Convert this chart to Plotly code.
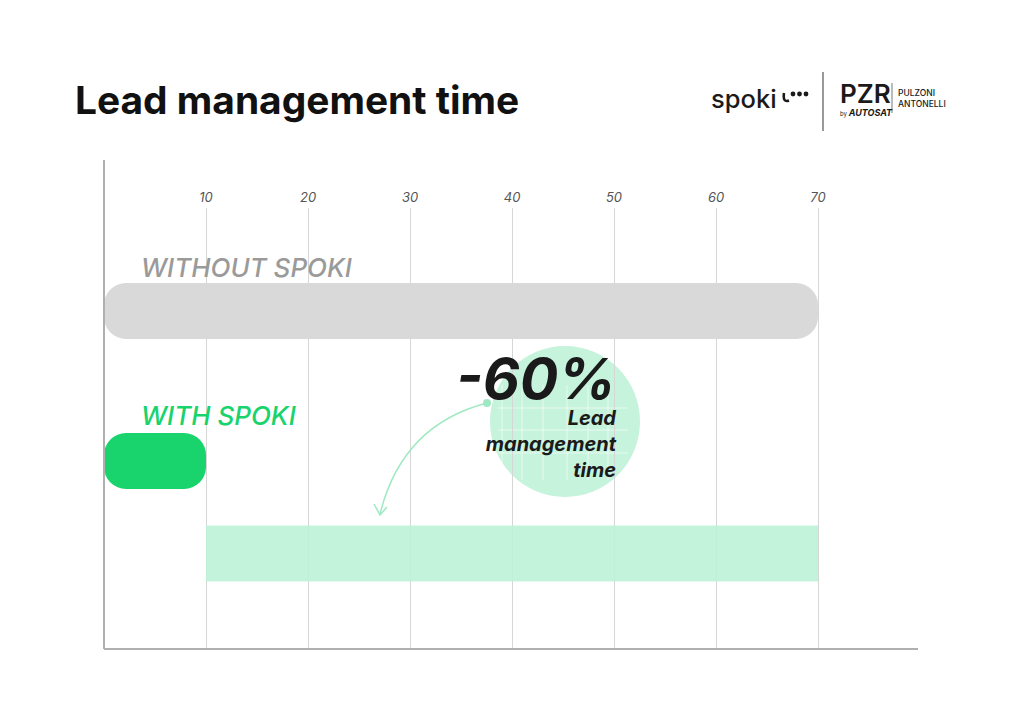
import plotly.graph_objects as go

# ---------------- data ----------------
categories = ["WITHOUT SPOKI", "WITH SPOKI", "Reduction"]
values = [70, 10, 60]
bases = [0, 0, 10]
tick_vals = [10, 20, 30, 40, 50, 60, 70]
tick_text = ["10", "20", "30", "40", "50", "60", "70"]
reduction_label = "-60%"
reduction_caption = "Lead<br>management<br>time"
title_text = "Lead management time"

# ---------------- layout helpers ----------------
W, H = 1024, 724
OFF = 8  # page body margin
L, R, T, B = 104 - OFF, W - (918 - OFF), 208 - OFF, H - (649 - OFF)
XMAX = 79.8
PW, PH = W - L - R, H - T - B
bar_pos = [103, 253, 345.5]  # vertical positions (pixel-like y axis)


def dx(px):
    return (px - 104) / PW * XMAX


def dy(py):
    return py - 208


def paper(px, py):
    return (px - 104) / PW, (649 - py) / PH


fig = go.Figure()

gray = "#d9d9d9"
green = "#19d36c"
light_green = "rgba(190,242,215,0.9)"

fig.add_trace(go.Bar(
    y=[bar_pos[0]], x=[values[0]], base=[bases[0]], orientation="h",
    width=56, marker=dict(color=gray, cornerradius=22, line=dict(width=0)),
    name=categories[0], hoverinfo="x"))
fig.add_trace(go.Bar(
    y=[bar_pos[1]], x=[values[1]], base=[bases[1]], orientation="h",
    width=56, marker=dict(color=green, cornerradius=22, line=dict(width=0)),
    name=categories[1], hoverinfo="x"))
fig.add_trace(go.Bar(
    y=[bar_pos[2]], x=[values[2]], base=[bases[2]], orientation="h",
    width=56, marker=dict(color=light_green, line=dict(width=0)),
    name=categories[2], hoverinfo="x"))

shapes = []
# decorative circle
shapes.append(dict(type="circle", xref="x", yref="y",
                   x0=dx(490), x1=dx(640), y0=dy(346), y1=dy(497),
                   fillcolor="#c6f3dc", line=dict(width=0), layer="below"))
# faint white grid inside circle
for px in [502, 522, 543, 567, 588, 608]:
    shapes.append(dict(type="line", xref="x", yref="y",
                       x0=dx(px), x1=dx(px), y0=dy(385), y1=dy(480),
                       line=dict(color="rgba(255,255,255,0.6)", width=1), layer="below"))
for py in [408, 430, 453]:
    shapes.append(dict(type="line", xref="x", yref="y",
                       x0=dx(498), x1=dx(628), y0=dy(py), y1=dy(py),
                       line=dict(color="rgba(255,255,255,0.6)", width=1), layer="below"))


def pshape(px0, py0, px1, py1, **kw):
    a, b = paper(px0, py0)
    c, d = paper(px1, py1)
    s = dict(xref="paper", yref="paper", x0=a, y0=b, x1=c, y1=d)
    s.update(kw)
    return s


# axis lines
shapes.append(pshape(104, 160, 104, 649, type="line", line=dict(color="#b0b0b0", width=2)))
shapes.append(pshape(104, 649, 918, 649, type="line", line=dict(color="#b0b0b0", width=2)))

# curved arrow
ac = "#9ee8c2"
path = "M {} {} Q {} {} {} {}".format(dx(487), dy(403), dx(402), dy(425), dx(380), dy(514))
shapes.append(dict(type="path", xref="x", yref="y", path=path,
                   line=dict(color=ac, width=1.5)))
head = "M {} {} L {} {} L {} {}".format(dx(374), dy(504), dx(380), dy(515), dx(387), dy(507))
shapes.append(dict(type="path", xref="x", yref="y", path=head,
                   line=dict(color=ac, width=1.5)))
shapes.append(dict(type="circle", xref="x", yref="y",
                   x0=dx(483), x1=dx(491), y0=dy(399), y1=dy(407),
                   fillcolor=ac, line=dict(width=0)))

# spoki logo mark: swoosh + three dots
for cx in [793, 799.5, 806]:
    shapes.append(pshape(cx - 2.4, 91.6, cx + 2.4, 96.4, type="circle",
                         fillcolor="#1a1a1a", line=dict(width=0)))

sw = [paper(784, 93), paper(782.5, 103), paper(789, 100.5)]
shapes.append(dict(type="path", xref="paper", yref="paper",
                   path="M {} {} Q {} {} {} {}".format(sw[0][0], sw[0][1], sw[1][0], sw[1][1],
                                                      sw[2][0], sw[2][1]),
                   line=dict(color="#1a1a1a", width=2.6)))
shapes.append(pshape(823, 72, 823, 131, type="line", line=dict(color="#555555", width=1.2)))
shapes.append(pshape(892, 83, 892, 113, type="line", line=dict(color="#555555", width=0.8)))

annotations = []


def pann(px, py, text, **kw):
    a, b = paper(px, py)
    d = dict(xref="paper", yref="paper", x=a, y=b, text=text, showarrow=False)
    d.update(kw)
    return d


annotations.append(dict(xref="x", yref="y", x=dx(139), y=dy(267), text=categories[0],
                        showarrow=False, xanchor="left", yanchor="middle",
                        font=dict(family="Inter", size=26, color="#9a9a9a",
                                  style="italic", weight=500)))
annotations.append(dict(xref="x", yref="y", x=dx(139), y=dy(415), text=categories[1],
                        showarrow=False, xanchor="left", yanchor="middle",
                        font=dict(family="Inter", size=26, color=green,
                                  style="italic", weight=500)))
annotations.append(dict(xref="x", yref="y", x=dx(619), y=dy(413),
                        text="<span style='font-size:57px'>" + reduction_label + "</span><br>"
                             + reduction_caption,
                        showarrow=False, xanchor="right", yanchor="middle", align="right",
                        font=dict(family="Inter", size=20, color="#1a1a1a",
                                  style="italic", weight=700)))
# logos text
annotations.append(pann(709, 98, "spoki", xanchor="left", yanchor="middle",
                        font=dict(family="Inter", size=25.5, color="#1a1a1a", weight=500)))
annotations.append(pann(865, 94, "PZR", xanchor="center", yanchor="middle",
                        font=dict(family="Inter", size=26, color="#1a1a1a", weight=600)))
annotations.append(pann(866, 113, "<span style='font-size:6px'>by </span><i><b>AUTOSAT</b></i>",
                        xanchor="center", yanchor="middle",
                        font=dict(family="Inter", size=9, color="#1a1a1a")))
annotations.append(pann(896, 98, "PULZONI<br>ANTONELLI", xanchor="left", yanchor="middle",
                        align="left",
                        font=dict(family="Inter", size=8.5, color="#1a1a1a", weight=500)))

fig.update_layout(
    width=W, height=H,
    margin=dict(l=L, r=R, t=T, b=B, pad=0),
    paper_bgcolor="white", plot_bgcolor="white",
    showlegend=False, barmode="overlay",
    title=dict(text=title_text, x=(75 - OFF) / W, xanchor="left", y=1 - (100 - OFF) / H,
               yanchor="middle",
               font=dict(family="Inter", size=38.9, color="#111111", weight=700)),
    xaxis=dict(range=[0, XMAX], side="top", tickvals=tick_vals, ticktext=tick_text,
               showgrid=True, gridcolor="#d6d6d6", gridwidth=1, zeroline=False,
               showline=False, ticks="", ticklabelstandoff=2,
               tickfont=dict(family="Inter", size=13, color="#555555", style="italic")),
    yaxis=dict(range=[PH, 0], visible=False, showgrid=False, zeroline=False),
    shapes=shapes, annotations=annotations,
)

fig.write_html("out.html")
